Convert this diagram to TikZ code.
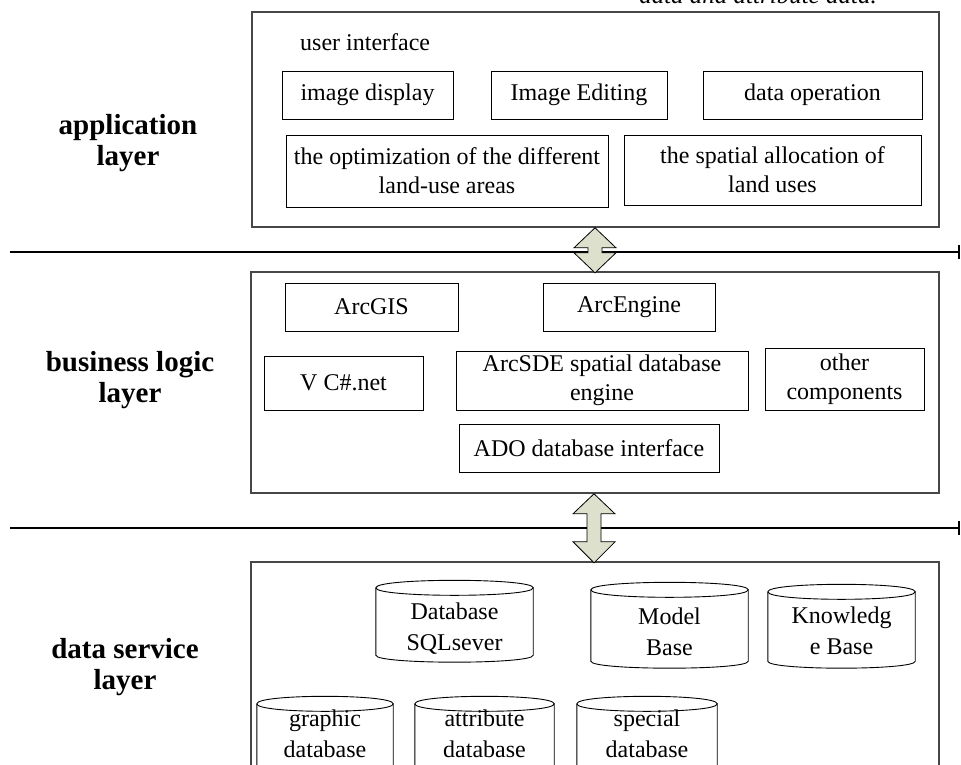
\documentclass[tikz,border=0pt]{standalone}
\usepackage{fontspec}
\setmainfont{Liberation Serif}
\usetikzlibrary{calc}
\definecolor{arrowfill}{RGB}{221,224,204}
\tikzset{
 layerbox/.style={draw=black!72, line width=1.6pt, inner sep=0pt},
 item/.style={draw, line width=0.9pt, inner sep=0pt, align=center, font=\fontsize{24}{29}\selectfont},
 plaintext/.style={inner sep=0pt, font=\fontsize{24}{29}\selectfont},
 cylbox/.style={inner sep=0pt},
 cylline/.style={line width=0.9pt},
 cyltext/.style={align=center, inner sep=0pt, font=\fontsize{24}{31}\selectfont},
 layerlabel/.style={align=center, inner sep=0pt, font=\bfseries\fontsize{29}{31}\selectfont},
 sepline/.style={line width=1.3pt},
 dblarrow/.style={draw, line width=0.8pt, fill=arrowfill, line join=miter},
}
\newcommand\drawcyl[1]{%
 \draw[cylline] (#1.north west) -- (#1.south west) .. controls +(0,9.3) and +(0,9.3) .. (#1.south east) -- (#1.north east);
 \draw[cylline] (#1.north west) .. controls +(0,-10) and +(0,-10) .. (#1.north east) .. controls +(0,10) and +(0,10) .. (#1.north west);}
\begin{document}
\begin{tikzpicture}[x=1pt,y=-1pt]
\useasboundingbox (0,0) rectangle (961,764);
\clip (0,0) rectangle (961,764);
\fill[white] (0,0) rectangle (961,764);

% caption cut off at the top edge, as in the reference
\node[anchor=base, inner sep=0pt, font=\itshape\fontsize{25}{25}\selectfont] (toptext) at (758,3) {data and attribute data.};

% layer labels
\node[layerlabel] (l1) at (128,143) {application\\layer};
\node[layerlabel] (l2) at (130,380) {business logic\\layer};
\node[layerlabel] (l3) at (125,667) {data service\\layer};

% separators
\coordinate (s1l) at (10,252);
\coordinate (s1r) at (959,252);
\coordinate (s2l) at (10,528);
\coordinate (s2r) at (959,528);
\draw[sepline] (s1l) -- (s1r);
\draw[sepline] ($(s1r)+(0,-7)$) -- ($(s1r)+(0,7)$);
\draw[sepline] (s2l) -- (s2r);
\draw[sepline] ($(s2r)+(0,-7)$) -- ($(s2r)+(0,7)$);

% layer boxes
\node[layerbox, minimum width=687, minimum height=215] (appbox) at (595.5,119.5) {};
\node[layerbox, minimum width=688, minimum height=221] (bizbox) at (595,382.5) {};
\node[layerbox, minimum width=688, minimum height=260] (databox) at (595,692) {};

% application layer
\node[plaintext, anchor=base west] (ui) at (300,50) {user interface};
\node[item, minimum width=171, minimum height=48] (imgdisp) at (367.5,95) {image display};
\node[item, minimum width=176, minimum height=48] (imgedit) at (579,95) {Image Editing};
\node[item, minimum width=219, minimum height=48] (dataop) at (812.5,95) {data operation};
\node[item, minimum width=322, minimum height=72] (optim) at (447,171) {the optimization of the different\\land-use areas};
\node[item, minimum width=297, minimum height=70] (spatial) at (772.5,170) {the spatial allocation of\\land uses};

% business logic layer
\node[item, minimum width=173, minimum height=48] (arcgis) at (371.5,307) {ArcGIS};
\node[item, minimum width=172, minimum height=48] (arcengine) at (629,307) {ArcEngine};
\node[item, minimum width=159, minimum height=54] (vcs) at (343.5,383) {V C\#.net};
\node[item, minimum width=292, minimum height=59] (arcsde) at (602,380.5) {ArcSDE spatial database\\engine};
\node[item, minimum width=159, minimum height=62] (other) at (844.5,379) {other\\components};
\node[item, minimum width=260, minimum height=48] (ado) at (589,448) {ADO database interface};

% data service layer
\node[cylbox, minimum width=157, minimum height=67] (db1) at (454.5,621.5) {};
\node[cylbox, minimum width=157, minimum height=71] (db2) at (669.5,625.5) {};
\node[cylbox, minimum width=147, minimum height=69] (db3) at (841.5,626.5) {};
\node[cylbox, minimum width=136, minimum height=86] (db4) at (325,747) {};
\node[cylbox, minimum width=139, minimum height=86] (db5) at (484.5,747) {};
\node[cylbox, minimum width=140, minimum height=86] (db6) at (647,747) {};
\drawcyl{db1}\drawcyl{db2}\drawcyl{db3}\drawcyl{db4}\drawcyl{db5}\drawcyl{db6}
\node[cyltext] (t1) at (454.5,629) {Database\\SQLsever};
\node[cyltext] (t2) at (669.5,632) {Model\\Base};
\node[cyltext] (t3) at (841.5,631) {Knowledg\\e Base};
\node[cyltext] (t4) at (325,734) {graphic\\database};
\node[cyltext] (t5) at (484.5,734) {attribute\\database};
\node[cyltext] (t6) at (647,734) {special\\database};

% double arrows between layers
\coordinate (a1) at (appbox.south -| 595,0);
\draw[dblarrow] (a1) -- ++(21,20) -- ++(-14,0) -- ++(0,5) -- ++(14,0) -- ++(-21,20) -- ++(-21,-20) -- ++(14,0) -- ++(0,-5) -- ++(-14,0) -- cycle;
\coordinate (a2) at (bizbox.south -| 594,0);
\draw[dblarrow] (a2) -- ++(21,20) -- ++(-14,0) -- ++(0,28) -- ++(14,0) -- ++(-21,21) -- ++(-21,-21) -- ++(14,0) -- ++(0,-28) -- ++(-14,0) -- cycle;
\end{tikzpicture}
\end{document}
